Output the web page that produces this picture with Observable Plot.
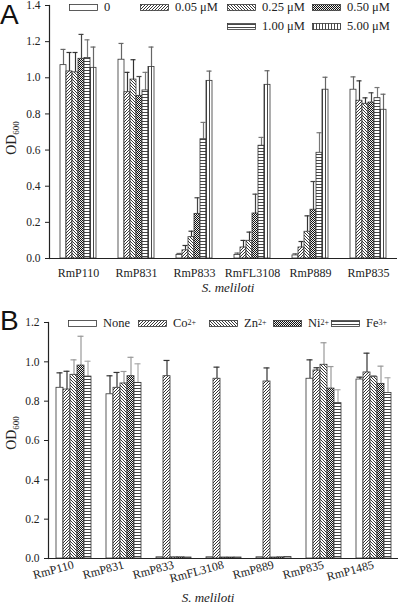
<!DOCTYPE html>
<html><head><meta charset="utf-8">
<script src="https://cdn.jsdelivr.net/npm/d3@7"></script>
<script src="https://cdn.jsdelivr.net/npm/@observablehq/plot@0.6"></script>
<style>
body{margin:0;background:#fff;}
#root{position:relative;width:400px;height:604px;overflow:hidden;font-family:"Liberation Serif","Times New Roman",serif;color:#222;}
.abs{position:absolute;white-space:nowrap;}
.panel{position:absolute;left:0;}
.letter{font-family:"Liberation Sans",Arial,sans-serif;font-size:28px;line-height:28px;color:#111;}
.ylab{font-size:14px;transform:translate(-50%,-50%) rotate(-90deg);}
.ylab sub{font-size:9px;vertical-align:-3px;}
.xlab{font-size:13px;font-style:italic;transform:translateX(-50%);}
.leg{font-size:12.5px;line-height:16px;display:flex;align-items:center;}
.leg svg{margin-right:6px;}
.leg sup{font-size:8px;vertical-align:5px;line-height:0;}
#root svg text{font-family:"Liberation Serif","Times New Roman",serif;}
svg [aria-label="fx-axis tick label"] text{font-size:12px;}
svg [aria-label="y-axis tick label"] text{font-size:11.5px;}
</style></head>
<body>
<svg width="0" height="0" style="position:absolute">
<defs>
<pattern id="p0" patternUnits="userSpaceOnUse" width="4" height="4"><rect width="4" height="4" fill="#fff"/></pattern>
<pattern id="p1" patternUnits="userSpaceOnUse" width="3" height="3"><rect width="3" height="3" fill="#fff"/><path d="M-1,1 l2,-2 M0,3 l3,-3 M2,4 l2,-2" stroke="#222" stroke-width="0.9"/></pattern>
<pattern id="p2" patternUnits="userSpaceOnUse" width="3" height="3"><rect width="3" height="3" fill="#fff"/><path d="M-1,2 l2,2 M0,0 l3,3 M2,-1 l2,2" stroke="#222" stroke-width="0.9"/></pattern>
<pattern id="p3" patternUnits="userSpaceOnUse" width="2" height="2"><rect width="2" height="2" fill="#eee"/><rect width="1" height="1" fill="#111"/><rect x="1" y="1" width="1" height="1" fill="#111"/></pattern>
<pattern id="p4" patternUnits="userSpaceOnUse" width="4" height="3"><rect width="4" height="3" fill="#fff"/><path d="M0,1.5 h4" stroke="#333" stroke-width="0.9"/></pattern>
<pattern id="p5" patternUnits="userSpaceOnUse" width="3" height="4"><rect width="3" height="4" fill="#fff"/><path d="M1.5,0 v4" stroke="#333" stroke-width="0.9"/></pattern>
</defs></svg>
<div id="root"></div>
<script>
// ---------- Panel A data ----------
const strainsA = ["RmP110","RmP831","RmP833","RmFL3108","RmP889","RmP835"];
const seriesA = ["0","0.05 μM","0.25 μM","0.50 μM","1.00 μM","5.00 μM"];
const valuesA0 = [1.07, 1.10, 0.02, 0.02, 0.017, 0.934];
const valuesA1 = [1.035, 0.92, 0.045, 0.061, 0.061, 0.873];
const valuesA2 = [1.03, 0.99, 0.118, 0.098, 0.148, 0.856];
const valuesA3 = [1.105, 0.90, 0.247, 0.249, 0.27, 0.863];
const valuesA4 = [1.11, 0.93, 0.66, 0.624, 0.585, 0.887];
const valuesA5 = [1.055, 1.06, 0.983, 0.961, 0.934, 0.823];
const errA0 = [0.087, 0.09, 0.008, 0.01, 0.009, 0.071];
const errA1 = [0.105, 0.11, 0.027, 0.039, 0.033, 0.11];
const errA2 = [0.11, 0.11, 0.033, 0.048, 0.088, 0.033];
const errA3 = [0.135, 0.107, 0.089, 0.107, 0.156, 0.054];
const errA4 = [0.10, 0.10, 0.093, 0.046, 0.111, 0.059];
const errA5 = [0.115, 0.11, 0.054, 0.078, 0.069, 0.086];
const yTicksA = [0, 0.2, 0.4, 0.6, 0.8, 1.0, 1.2, 1.4];

// ---------- Panel B data ----------
const strainsB = ["RmP110","RmP831","RmP833","RmFL3108","RmP889","RmP835","RmP1485"];
const seriesB = ["None","Co2+","Zn2+","Ni2+","Fe3+"];
const valuesB0 = [0.868, 0.835, 0.006, 0.006, 0.006, 0.914, 0.91];
const valuesB1 = [0.859, 0.868, 0.927, 0.914, 0.90, 0.956, 0.946];
const valuesB2 = [0.934, 0.89, 0.006, 0.005, 0.005, 0.985, 0.922];
const valuesB3 = [0.981, 0.927, 0.006, 0.005, 0.006, 0.864, 0.888];
const valuesB4 = [0.925, 0.893, 0.005, 0.005, 0.007, 0.79, 0.842];
const errB0 = [0.076, 0.094, 0, 0, 0, 0.096, 0.012];
const errB1 = [0.093, 0.078, 0.08, 0.059, 0.069, 0.014, 0.098];
const errB2 = [0.076, 0.061, 0, 0, 0, 0.112, 0.008];
const errB3 = [0.149, 0.096, 0, 0, 0, 0.112, 0.09];
const errB4 = [0.078, 0.097, 0, 0, 0, 0.068, 0.077];
const yTicksB = [0, 0.2, 0.4, 0.6, 0.8, 1.0, 1.2];

const patterns = ["url(#p0)","url(#p1)","url(#p2)","url(#p3)","url(#p4)","url(#p5)"];
const errColorsA = ["#666","#333","#333","#444","#777","#666"];
const errColorsB = ["#333","#333","#999","#999","#aaa"];

function table(strains, series, values, errs) {
  const rows = [];
  series.forEach((s, i) => strains.forEach((st, j) => {
    rows.push({strain: st, series: s, i, value: values[i][j], err: errs[i][j]});
  }));
  return rows;
}
const dataA = table(strainsA, seriesA,
  [valuesA0, valuesA1, valuesA2, valuesA3, valuesA4, valuesA5],
  [errA0, errA1, errA2, errA3, errA4, errA5]);
const dataB = table(strainsB, seriesB,
  [valuesB0, valuesB1, valuesB2, valuesB3, valuesB4],
  [errB0, errB1, errB2, errB3, errB4]);

function barMarks(data, series, errColors) {
  const marks = [];
  series.forEach((s, i) => {
    const d = data.filter(r => r.i === i);
    const de = d.filter(r => r.err > 0);
    marks.push(Plot.ruleX(de, {fx: "strain", x: "series", y1: "value", y2: r => r.value + r.err, stroke: errColors[i], strokeWidth: 1.2}));
    marks.push(Plot.tickY(de, {fx: "strain", x: "series", y: r => r.value + r.err, stroke: errColors[i], strokeWidth: 1.2, inset: 0.5}));
    marks.push(Plot.barY(d, {fx: "strain", x: "series", y: "value", fill: patterns[i], stroke: "#333", strokeWidth: 0.8}));
  });
  return marks;
}

const root = document.getElementById("root");

const plotA = Plot.plot({
  width: 400, height: 296,
  marginLeft: 47, marginRight: 1, marginTop: 5, marginBottom: 38,
  style: {fontFamily: "Liberation Serif, Times New Roman, serif", fontSize: "11px", color: "#222", background: "transparent"},
  fx: {domain: strainsA, padding: 0, label: null, axis: "bottom", tickSize: 0, tickPadding: 10},
  x: {domain: seriesA, paddingInner: 0, paddingOuter: 1.33, axis: null},
  y: {domain: [0, 1.4], ticks: yTicksA, tickFormat: d => d.toFixed(1), label: null, tickSize: 4, tickPadding: 5},
  marks: [
    ...barMarks(dataA, seriesA, errColorsA),
    Plot.ruleY([0], {stroke: "#222", strokeWidth: 1.2}),
    Plot.frame({anchor: "left", facetAnchor: "left", stroke: "#222", strokeWidth: 1.2})
  ]
});
const wrapA = document.createElement("div");
wrapA.className = "panel"; wrapA.style.top = "0px";
wrapA.appendChild(plotA);
root.appendChild(wrapA);

const plotB = Plot.plot({
  width: 400, height: 304,
  marginLeft: 45, marginRight: 0, marginTop: 22, marginBottom: 46,
  style: {fontFamily: "Liberation Serif, Times New Roman, serif", fontSize: "11px", color: "#222", background: "transparent"},
  fx: {domain: strainsB, padding: 0, label: null, axis: "bottom", tickSize: 0, tickPadding: 6, tickRotate: -15},
  x: {domain: seriesB, paddingInner: 0, paddingOuter: 0.97, axis: null},
  y: {domain: [0, 1.2], ticks: yTicksB, tickFormat: d => d.toFixed(1), label: null, tickSize: 4, tickPadding: 5},
  marks: [
    ...barMarks(dataB, seriesB, errColorsB),
    Plot.ruleY([0], {stroke: "#222", strokeWidth: 1.2}),
    Plot.frame({anchor: "left", facetAnchor: "left", stroke: "#222", strokeWidth: 1.2})
  ]
});
const wrapB = document.createElement("div");
wrapB.className = "panel"; wrapB.style.top = "300px";
wrapB.appendChild(plotB);
root.appendChild(wrapB);

// ---------- overlay text & legends ----------
function addText(cls, html, left, top) {
  const el = document.createElement("div");
  el.className = "abs " + cls;
  el.innerHTML = html;
  el.style.left = left + "px"; el.style.top = top + "px";
  root.appendChild(el);
  return el;
}
addText("letter", "A", 0, 1);
addText("letter", "B", 0, 307);
addText("ylab", "OD<sub>600</sub>", 12, 138);
addText("ylab", "OD<sub>600</sub>", 12, 433);
addText("xlab", "<i>S. meliloti</i>", 228, 280);
addText("xlab", "<i>S. meliloti</i>", 208, 590);

function swatch(pat, w) {
  return `<svg width="${w}" height="7"><rect x="0.5" y="0.5" width="${w-1}" height="6" fill="${pat}" stroke="#333" stroke-width="0.8"/></svg>`;
}
const legendLabelsA = seriesA;
const legendPosA = [[69,7],[140,7],[227,7],[312,7],[227,26],[312,26]];
legendLabelsA.forEach((lab, i) => {
  addText("leg", swatch(patterns[i], 29) + lab, legendPosA[i][0], legendPosA[i][1] - 8);
});
const legendLabelsB = ["None","Co<sup>2+</sup>","Zn<sup>2+</sup>","Ni<sup>2+</sup>","Fe<sup>3+</sup>"];
const legendPosB = [[68,323],[138,323],[209,323],[273,323],[331,323]];
legendLabelsB.forEach((lab, i) => {
  addText("leg", swatch(patterns[i], 29) + lab, legendPosB[i][0], legendPosB[i][1] - 8);
});
</script>
</body></html>
